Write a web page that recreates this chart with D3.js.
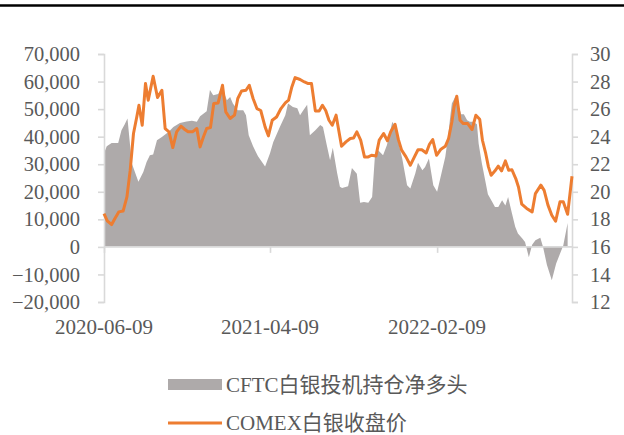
<!DOCTYPE html>
<html>
<head>
<meta charset="utf-8">
<script src="https://cdn.jsdelivr.net/npm/d3@7"></script>
<style>
  html, body { margin: 0; padding: 0; background: #fff; }
  svg { display: block; }
  text { font-family: "Liberation Serif", "Noto Sans CJK SC", serif; fill: #595959; }
</style>
</head>
<body>
<svg id="chart" width="624" height="435"></svg>
<script>
// ---- Data ----
const cftcDates = ["2020-06-09","2020-06-14","2020-06-23","2020-07-05","2020-07-11","2020-07-17","2020-07-22","2020-07-30","2020-08-11","2020-08-20","2020-08-26","2020-09-01","2020-09-07","2020-09-14","2020-09-23","2020-09-29","2020-10-05","2020-10-14","2020-10-26","2020-11-07","2020-11-17","2020-11-26","2020-12-02","2020-12-14","2020-12-20","2020-12-26","2021-01-04","2021-01-11","2021-01-20","2021-01-26","2021-01-31","2021-02-09","2021-02-19","2021-02-24","2021-03-01","2021-03-09","2021-03-18","2021-03-31","2021-04-09","2021-04-15","2021-04-22","2021-04-27","2021-05-07","2021-05-12","2021-05-21","2021-05-29","2021-06-03","2021-06-09","2021-06-16","2021-06-21","2021-07-01","2021-07-10","2021-07-15","2021-07-22","2021-07-28","2021-08-02","2021-08-10","2021-08-15","2021-08-19","2021-08-30","2021-09-06","2021-09-15","2021-09-21","2021-09-28","2021-10-06","2021-10-13","2021-10-18","2021-10-24","2021-11-02","2021-11-09","2021-11-19","2021-11-24","2021-11-30","2021-12-07","2021-12-16","2021-12-22","2021-12-31","2022-01-05","2022-01-13","2022-01-18","2022-01-25","2022-02-02","2022-02-09","2022-02-14","2022-02-24","2022-03-01","2022-03-05","2022-03-08","2022-03-14","2022-03-19","2022-03-25","2022-03-30","2022-04-05","2022-04-10","2022-04-16","2022-04-23","2022-04-26","2022-05-02","2022-05-08","2022-05-13","2022-05-21","2022-05-26","2022-06-01","2022-06-08","2022-06-14","2022-06-19","2022-06-26","2022-07-02","2022-07-07","2022-07-15","2022-07-20","2022-07-27","2022-08-02","2022-08-08","2022-08-17","2022-08-22","2022-08-29","2022-09-07","2022-09-15","2022-09-22","2022-09-28","2022-10-06"];
const cftcNetLong = [34000,36500,37700,37700,42300,44500,46600,30300,23600,27200,30800,33300,33500,38700,39900,40800,41700,43500,45000,45500,45800,45400,47400,49200,56900,55000,55500,58000,53200,54400,52000,49600,49600,47800,40500,36500,32900,29200,34000,38100,41200,43500,47800,52000,50800,50300,47800,49600,51600,40500,42300,44200,43500,36900,31400,36000,26700,21800,21400,22000,28600,26500,16000,16300,16000,18100,32700,35100,33300,36900,45400,43500,38100,32200,22400,21200,26600,30500,27800,29000,32100,22400,20000,24200,32700,39900,47200,52000,54400,52000,48100,48100,46000,45400,45400,44500,37500,30300,24200,19100,16300,14500,14500,16900,15000,18100,12200,7300,4900,3000,1800,-3800,800,2400,3300,0,-6500,-12100,-6000,-2500,500,8700];

const silverDates = ["2020-06-09","2020-06-15","2020-06-23","2020-06-29","2020-07-06","2020-07-14","2020-07-21","2020-07-27","2020-08-02","2020-08-08","2020-08-12","2020-08-18","2020-08-24","2020-08-29","2020-09-07","2020-09-15","2020-09-23","2020-09-29","2020-10-06","2020-10-13","2020-10-20","2020-10-28","2020-11-04","2020-11-10","2020-11-18","2020-11-26","2020-12-02","2020-12-08","2020-12-14","2020-12-21","2020-12-27","2021-01-04","2021-01-12","2021-01-18","2021-01-26","2021-02-03","2021-02-09","2021-02-16","2021-02-24","2021-03-02","2021-03-09","2021-03-16","2021-03-23","2021-03-31","2021-04-06","2021-04-13","2021-04-21","2021-04-29","2021-05-07","2021-05-13","2021-05-19","2021-05-25","2021-06-03","2021-06-11","2021-06-18","2021-06-24","2021-07-01","2021-07-08","2021-07-14","2021-07-20","2021-07-26","2021-08-01","2021-08-08","2021-08-18","2021-08-26","2021-09-03","2021-09-09","2021-09-15","2021-09-22","2021-09-29","2021-10-06","2021-10-12","2021-10-20","2021-10-26","2021-11-03","2021-11-10","2021-11-16","2021-11-24","2021-11-30","2021-12-06","2021-12-14","2021-12-22","2021-12-29","2022-01-05","2022-01-12","2022-01-20","2022-01-26","2022-02-01","2022-02-08","2022-02-16","2022-02-24","2022-03-02","2022-03-08","2022-03-12","2022-03-17","2022-03-23","2022-03-29","2022-04-06","2022-04-14","2022-04-21","2022-04-28","2022-05-03","2022-05-09","2022-05-14","2022-05-19","2022-05-26","2022-06-01","2022-06-07","2022-06-14","2022-06-20","2022-06-26","2022-07-03","2022-07-08","2022-07-14","2022-07-23","2022-08-02","2022-08-08","2022-08-18","2022-08-24","2022-08-31","2022-09-07","2022-09-14","2022-09-22","2022-09-28","2022-10-06","2022-10-14"];
const silverClose = [18.42,17.89,17.62,18.06,18.54,18.60,19.63,21.57,24.23,25.43,26.28,24.83,27.86,26.65,28.39,26.84,27.37,24.59,24.35,23.21,24.35,24.76,24.52,24.35,24.35,24.59,23.26,23.98,24.59,24.66,26.41,26.45,27.73,25.80,25.32,25.56,26.77,27.32,27.37,27.73,26.77,26.04,25.90,24.71,24.06,25.19,25.43,26.04,26.45,26.65,27.61,28.29,28.15,27.97,27.85,27.85,25.87,25.87,26.28,25.90,25.19,24.83,25.56,23.30,23.62,23.87,23.90,24.35,23.75,22.53,22.53,22.65,22.60,23.75,24.23,23.70,24.35,24.90,23.80,23.02,22.53,21.93,22.50,23.05,23.05,22.82,23.45,23.79,22.65,23.09,23.30,23.87,25.07,26.16,26.94,25.19,24.95,24.95,24.52,25.56,25.27,23.74,22.78,21.81,21.20,21.52,21.86,21.52,22.24,21.57,21.60,20.96,20.35,19.10,18.79,18.54,19.87,20.48,20.10,19.03,18.30,17.86,19.27,19.27,18.37,21.13];

const xTickLabels = ["2020-06-09", "2021-04-09", "2022-02-09"];
const xDomain = ["2020-06-09", "2022-10-14"];
const leftTicks = [-20000, -10000, 0, 10000, 20000, 30000, 40000, 50000, 60000, 70000];
const rightTicks = [12, 14, 16, 18, 20, 22, 24, 26, 28, 30];
const legendLabels = ["CFTC白银投机持仓净多头", "COMEX白银收盘价"];

// ---- Chart ----
const parse = d3.timeParse("%Y-%m-%d");
const svg = d3.select("#chart");
const W = 624, H = 435;
const plot = { left: 104, right: 572, top: 54, bottom: 302 };
const colArea = "#aeaaaa", colLine = "#ed7d31", colAxis = "#d9d9d9";

const x = d3.scaleTime().domain(xDomain.map(parse)).range([plot.left, plot.right]);
const yL = d3.scaleLinear().domain([-20000, 70000]).range([plot.bottom, plot.top]);
const yR = d3.scaleLinear().domain([12, 30]).range([plot.bottom, plot.top]);

// top rule
svg.append("line").attr("x1", 0).attr("x2", W).attr("y1", 5.5).attr("y2", 5.5)
  .attr("stroke", "#000").attr("stroke-width", 2.6);

const cftc = cftcDates.map((d, i) => ({ date: parse(d), v: cftcNetLong[i] }));
const silver = silverDates.map((d, i) => ({ date: parse(d), v: silverClose[i] }));

// area
svg.append("path").datum(cftc)
  .attr("fill", colArea)
  .attr("d", d3.area().x(d => x(d.date)).y0(yL(0)).y1(d => yL(d.v)));

// left axis
const axL = svg.append("g").attr("transform", `translate(${plot.left},0)`)
  .call(d3.axisLeft(yL).tickValues(leftTicks).tickSize(6).tickPadding(18).tickFormat(d3.format(",")));
// right axis
const axR = svg.append("g").attr("transform", `translate(${plot.right},0)`)
  .call(d3.axisRight(yR).tickValues(rightTicks).tickSize(6).tickPadding(12).tickFormat(d3.format("d")));
// x axis at zero
const axX = svg.append("g").attr("transform", `translate(0,${yL(0)})`)
  .call(d3.axisBottom(x).tickValues(xTickLabels.map(parse)).tickSize(6).tickFormat(() => ""));
axX.select(".domain").attr("d", `M${plot.left},0H${plot.right}`);

[axL, axR, axX].forEach(g => {
  g.select(".domain").attr("stroke", colAxis).attr("stroke-width", 1.6);
  g.selectAll(".tick line").attr("stroke", colAxis).attr("stroke-width", 1.6);
  g.selectAll("text").attr("font-size", 20.5).attr("fill", "#595959")
    .attr("font-family", "'Liberation Serif', serif");
});

// x labels under the plot
svg.append("g").selectAll("text").data(xTickLabels).join("text")
  .attr("x", d => x(parse(d))).attr("y", 327).attr("dy", "0.35em")
  .attr("text-anchor", "middle").attr("font-size", 21).text(d => d);

// line
svg.append("path").datum(silver)
  .attr("fill", "none").attr("stroke", colLine).attr("stroke-width", 3)
  .attr("stroke-linejoin", "round")
  .attr("d", d3.line().x(d => x(d.date)).y(d => yR(d.v)));

// legend
const lg = svg.append("g");
lg.append("rect").attr("x", 168).attr("y", 379).attr("width", 54).attr("height", 11).attr("fill", colArea);
lg.append("text").attr("x", 226).attr("y", 384.5).attr("dy", "0.35em").attr("font-size", 21).text(legendLabels[0]);
lg.append("line").attr("x1", 168).attr("x2", 222).attr("y1", 423).attr("y2", 423)
  .attr("stroke", colLine).attr("stroke-width", 3);
lg.append("text").attr("x", 226).attr("y", 423).attr("dy", "0.35em").attr("font-size", 21).text(legendLabels[1]);
</script>
</body>
</html>
